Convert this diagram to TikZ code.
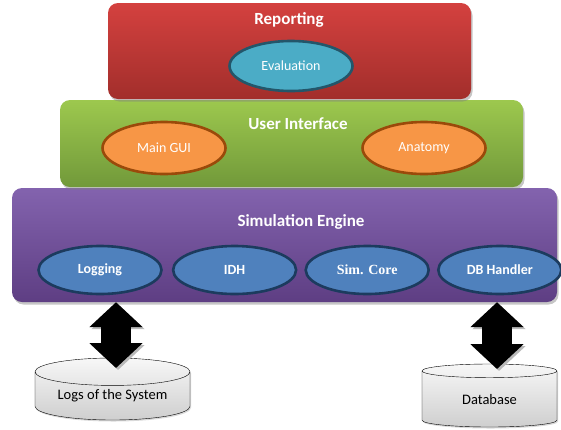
\documentclass[tikz,border=0pt]{standalone}
\usepackage{fontspec}
\setmainfont{Carlito}
\newfontfamily\timesfont{Liberation Serif}
\usetikzlibrary{arrows.meta,shapes,shadows,positioning}

\definecolor{repTop}{HTML}{D4413F}
\definecolor{repBot}{HTML}{A22E2B}
\definecolor{uiTop}{HTML}{9DC84E}
\definecolor{uiBot}{HTML}{71993A}
\definecolor{simTop}{HTML}{8363AE}
\definecolor{simBot}{HTML}{5E3E83}
\definecolor{evalFill}{HTML}{4BACC6}
\definecolor{evalLine}{HTML}{23566A}
\definecolor{guiFill}{HTML}{F79646}
\definecolor{guiLine}{HTML}{9A4A0A}
\definecolor{coreFill}{HTML}{4F81BD}
\definecolor{coreLine}{HTML}{1C3B5E}

\begin{document}
\begin{tikzpicture}[
    x=1pt, y=-1pt,
    layer/.style={
        rectangle,
        rounded corners=10pt,
        inner sep=0pt,
        drop shadow={shadow xshift=1.5pt, shadow yshift=-2.5pt, opacity=0.45}
    },
    title/.style={font=\fontsize{17}{20}\selectfont\bfseries, text=white},
    module/.style={
        ellipse,
        line width=2.6pt,
        minimum width=123pt,
        minimum height=48pt,
        inner sep=0pt,
        text=white,
        font=\fontsize{14}{16}\selectfont
    },
    store/.style={
        cylinder,
        shape border rotate=90,
        aspect=0.25,
        anchor=shape center,
        draw=black,
        thin,
        top color=gray!6,
        bottom color=gray!38,
        inner sep=0pt,
        font=\fontsize{14.5}{17}\selectfont,
        drop shadow={shadow xshift=1pt, shadow yshift=-1.5pt, opacity=0.3}
    },
    link/.style={
        line width=30pt,
        {Triangle[width=52pt,length=25pt]}-{Triangle[width=52pt,length=25pt]},
        preaction={draw=gray!55, transform canvas={xshift=2pt, yshift=-2pt}}
    }
]
\useasboundingbox (0,0) rectangle (561,429);

% LAYERS (bottom first, so the shadows fall on the lower ones)
\node[layer, top color=simTop, bottom color=simBot,
      minimum width=545pt, minimum height=114pt] (engine) at (284.5,245) {};
\node[layer, top color=uiTop, bottom color=uiBot,
      minimum width=463pt, minimum height=87pt] (ui) at (291.5,143.5) {};
\node[layer, top color=repTop, bottom color=repBot,
      minimum width=363pt, minimum height=96pt] (report) at (289.5,51) {};

\node[title] (reportT) at (289,20) {Reporting};
\node[title] (uiT) at (298,124) {User Interface};
\node[title] (engineT) at (301,222) {Simulation Engine};

% ROW 1
\node[module, fill=evalFill, draw=evalLine, minimum height=50pt] (eval) at (291,66) {Evaluation};

% ROW 2
\node[module, fill=guiFill, draw=guiLine, minimum height=52pt] (gui) at (164,148) {Main GUI};
\node[module, fill=guiFill, draw=guiLine, minimum height=52pt] (anat) at (424,148) {Anatomy};

% ROW 3
\node[module, fill=coreFill, draw=coreLine, font=\fontsize{14}{16}\selectfont\bfseries] (log) at (100,270) {Logging};
\node[module, fill=coreFill, draw=coreLine, font=\fontsize{14}{16}\selectfont\bfseries, right=9pt of log] (idh) {IDH};
\node[module, fill=coreFill, draw=coreLine, font=\fontsize{14}{16}\timesfont\bfseries, right=7pt of idh] (core) {Sim. Core};
\node[module, fill=coreFill, draw=coreLine, font=\fontsize{14}{16}\selectfont\bfseries, right=7pt of core] (dbh) {DB Handler};

% STORES
\node[store, minimum width=155pt, minimum height=62pt] (logs) at (112.5,389) {Logs of the System};
\node[store, minimum width=135pt, minimum height=63pt] (db) at (489.5,395.5) {Database};

% --- ARROWS ---
\coordinate (logsIn) at (116,368);
\coordinate (dbIn) at (497,369);
\draw[link] (logsIn |- engine.south) -- (logsIn);
\draw[link] (dbIn |- engine.south) -- (dbIn);

\end{tikzpicture}
\end{document}
